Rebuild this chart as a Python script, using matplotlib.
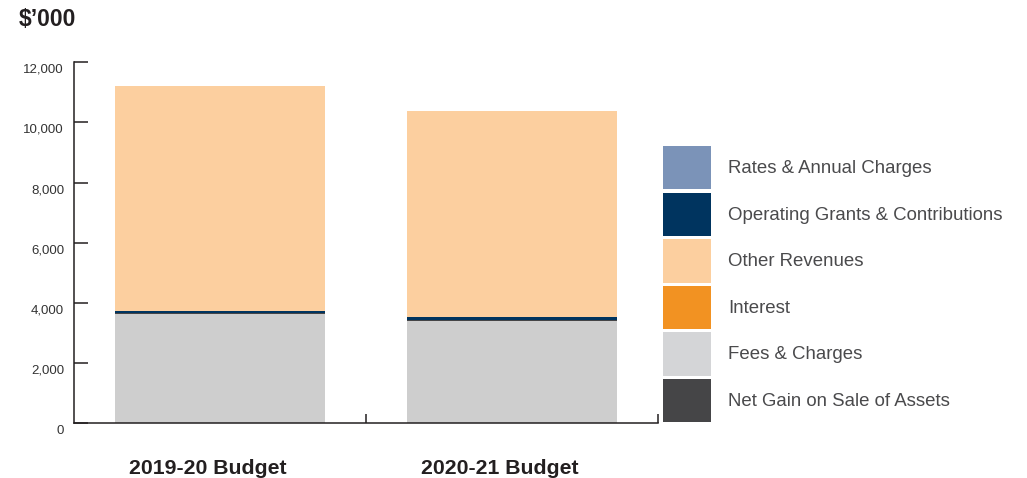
import matplotlib
matplotlib.use("Agg")
import matplotlib.pyplot as plt
import matplotlib.transforms as mtransforms
from matplotlib.patches import Patch

plt.rcParams['font.family'] = ['Liberation Sans', 'DejaVu Sans']

budgets = ['2019-20 Budget', '2020-21 Budget']

# $'000, stacked from the bottom up
fees_charges = [3640, 3400]
net_gain = [25, 25]
interest = [0, 0]
operating_grants = [65, 100]
other_revenues = [7470, 6855]
rates_charges = [0, 0]

yticks = [0, 2000, 4000, 6000, 8000, 10000, 12000]
ytick_labels = ['0', '2,000', '4,000', '6,000', '8,000', '10,000', '12,000']

colors = {
    'Rates & Annual Charges': '#7b93b8',
    'Operating Grants & Contributions': '#00345f',
    'Other Revenues': '#fccf9f',
    'Interest': '#f29222',
    'Fees & Charges': '#cecece',
    'Net Gain on Sale of Assets': '#454547',
}

stack = [
    ('Fees & Charges', fees_charges),
    ('Net Gain on Sale of Assets', net_gain),
    ('Interest', interest),
    ('Operating Grants & Contributions', operating_grants),
    ('Other Revenues', other_revenues),
    ('Rates & Annual Charges', rates_charges),
]

fig = plt.figure(figsize=(10.27, 4.78), dpi=100)
ax = fig.add_axes([74 / 1027, 54.7 / 478, 584 / 1027, 361 / 478])

x = list(range(len(budgets)))
bottom = [0] * len(budgets)
for name, vals in stack:
    ax.bar(x, vals, width=0.72, bottom=bottom, color=colors[name], linewidth=0)
    bottom = [b + v for b, v in zip(bottom, vals)]

ax.set_xlim(-0.5, 1.5)
ax.set_ylim(0, 12000)

for side in ['top', 'right']:
    ax.spines[side].set_visible(False)
for side in ['left', 'bottom']:
    ax.spines[side].set_color('#231f20')
    ax.spines[side].set_linewidth(1.1)

ax.set_yticks(yticks)
ax.set_yticklabels(ytick_labels)
ax.tick_params(axis='y', direction='in', length=10, width=1.1, color='#231f20',
               labelsize=9.5, labelcolor='#333333', pad=7.2)
shift = mtransforms.ScaledTranslation(0, -6 / 100, fig.dpi_scale_trans)
for lab in ax.get_yticklabels():
    lab.set_transform(lab.get_transform() + shift)

ax.set_xticks([0.5, 1.5])
ax.set_xticklabels([])
ax.tick_params(axis='x', direction='in', length=6.5, width=1.1, color='#231f20')

label_shift = mtransforms.ScaledTranslation(-12 / 100, 0, fig.dpi_scale_trans)
for xi, name in zip(x, budgets):
    ax.text(xi, -45 / 361, name, transform=ax.get_xaxis_transform() + label_shift,
            ha='center', va='center', fontsize=15.3, fontweight='bold', color='#231f20')

fig.text(19 / 1027, 1 - 19 / 478, '$\u2019000', ha='left', va='center',
         fontsize=16.5, fontweight='bold', color='#231f20')

legend_order = ['Rates & Annual Charges', 'Operating Grants & Contributions',
                'Other Revenues', 'Interest', 'Fees & Charges',
                'Net Gain on Sale of Assets']
legend_colors = dict(colors)
legend_colors['Fees & Charges'] = '#d4d5d7'
handles = [Patch(facecolor=legend_colors[n], edgecolor='none', label=n) for n in legend_order]
fig.legend(handles=handles, loc='upper left', bbox_to_anchor=(663 / 1027, 1 - 146 / 478),
           frameon=False, fontsize=13.4, handlelength=2.58, handleheight=3.2,
           labelspacing=0.18, handletextpad=0.91, borderpad=0, borderaxespad=0,
           labelcolor='#4a4a4c')

fig.savefig('out.png', dpi=100)
